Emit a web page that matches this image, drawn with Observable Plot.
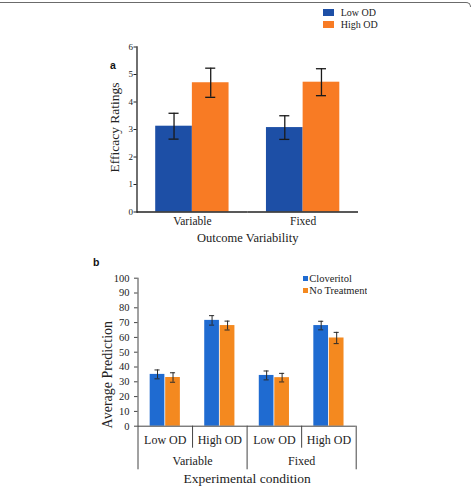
<!DOCTYPE html>
<html>
<head>
<meta charset="utf-8">
<script src="https://cdn.jsdelivr.net/npm/d3@7"></script>
<script src="https://cdn.jsdelivr.net/npm/@observablehq/plot@0.6"></script>
<style>
  html, body { margin: 0; padding: 0; background: #fff; }
  #fig { position: relative; width: 474px; height: 487px; overflow: hidden; background: #fff; }
  #fig > * { position: absolute; }
  #fig > svg { left: 0; }
  .top-rule { left: 0; top: 2px; width: 471px; height: 5px; border-top: 1.5px solid #6b6b6b;
              border-right: 1.5px solid #6b6b6b; border-top-right-radius: 5px; box-sizing: border-box; }
  .panel-tag { font: bold 10.5px "Liberation Sans", Arial, sans-serif; color: #111; line-height: 1; }
  .legend-a { left: 323.3px; top: 6.9px; }
  .legend-a .lega-swatches { margin: 0; font: 10px "Liberation Serif", "Times New Roman", serif; color: #222; }
  .legend-a .lega-swatch { height: 11.6px; padding: 0; display: flex; align-items: center; }
  .legend-a .lega-swatch > svg { margin-right: 6.4px; }
  .legend-b { left: 302.5px; top: 272.9px; }
  .legend-b .legb-swatches { margin: 0; font: 10.5px "Liberation Serif", "Times New Roman", serif; color: #222; }
  .legend-b .legb-swatch { height: 11.6px; padding: 0; display: flex; align-items: center; }
  .legend-b .legb-swatch > svg { margin-right: 1.8px; }
</style>
</head>
<body>
<div id="fig"></div>
<script>
// ---- Panel a: efficacy ratings by outcome variability ----
const outcomeGroups = ["Variable", "Fixed"];
const odLevels = ["Low OD", "High OD"];
const ratingLowOD = [3.12, 3.07];
const ratingHighOD = [4.70, 4.72];
const errLowOD = [0.47, 0.43];
const errHighOD = [0.53, 0.49];
const ratingTicks = [0, 1, 2, 3, 4, 5, 6];

// ---- Panel b: average prediction by experimental condition ----
const conditions = ["Variable", "Fixed"];
const treatments = ["Cloveritol", "No Treatment"];
// order: Variable/Low OD, Variable/High OD, Fixed/Low OD, Fixed/High OD
const predCloveritol = [35.0, 71.5, 34.3, 68.0];
const predNoTreatment = [32.9, 68.0, 32.8, 59.6];
const errCloveritol = [3.0, 3.2, 3.0, 2.9];
const errNoTreatment = [3.2, 3.0, 2.9, 3.8];
const predictionTicks = [0, 10, 20, 30, 40, 50, 60, 70, 80, 90, 100];

const serif = "'Liberation Serif', 'Times New Roman', serif";

const tableA = outcomeGroups.flatMap((g, i) => [
  {group: g, od: odLevels[0], mean: ratingLowOD[i], err: errLowOD[i]},
  {group: g, od: odLevels[1], mean: ratingHighOD[i], err: errHighOD[i]}
]);

const slots = conditions.flatMap(c => odLevels.map(o => `${c}|${o}`));
const tableB = slots.flatMap((s, i) => [
  {slot: s, treatment: treatments[0], mean: predCloveritol[i], err: errCloveritol[i]},
  {slot: s, treatment: treatments[1], mean: predNoTreatment[i], err: errNoTreatment[i]}
]);

const fig = document.getElementById("fig");

// frame line along the top of the figure
const topRule = document.createElement("div");
topRule.className = "top-rule";
fig.append(topRule);

// ---- panel a ----
const plotA = Plot.plot({
  width: 474,
  height: 250,
  marginLeft: 136.5,
  marginRight: 116,
  marginTop: 46.5,
  marginBottom: 38.5,
  style: {fontFamily: serif, fontSize: "9px", color: "#222", background: "transparent", overflow: "visible"},
  fx: {domain: outcomeGroups, paddingInner: 0, paddingOuter: 0, round: false},
  x: {domain: odLevels, paddingInner: 0, paddingOuter: 0.51, round: false, axis: null},
  y: {domain: [0, 6]},
  color: {domain: odLevels, range: ["#1d4fa6", "#f87b24"]},
  marks: [
    Plot.barY(tableA, {fx: "group", x: "od", y: "mean", fill: "od"}),
    Plot.ruleX(tableA, {fx: "group", x: "od", y1: d => d.mean - d.err, y2: d => d.mean + d.err, stroke: "#1a1a1a", strokeWidth: 1.3}),
    Plot.tickY(tableA, {fx: "group", x: "od", y: d => d.mean - d.err, stroke: "#1a1a1a", strokeWidth: 1.3, inset: 13.3}),
    Plot.tickY(tableA, {fx: "group", x: "od", y: d => d.mean + d.err, stroke: "#1a1a1a", strokeWidth: 1.3, inset: 13.3}),
    Plot.ruleY([0], {stroke: "#222", strokeWidth: 1.3}),
    Plot.frame({anchor: "left", fx: outcomeGroups[0], stroke: "#222", strokeWidth: 1.3}),
    Plot.axisY({ticks: ratingTicks, tickFormat: "d", tickSize: 3, tickPadding: 1, fontSize: 9, label: null, stroke: "#222"}),
    Plot.axisFx({anchor: "bottom", tickSize: 0, tickPadding: 5.3, fontSize: 11.5, label: null}),
    Plot.text(["Efficacy Ratings"], {
      fx: () => outcomeGroups[0], frameAnchor: "left", textAnchor: "middle", lineAnchor: "middle",
      rotate: -90, dx: -22.3, dy: -2, fontSize: 13.5
    }),
    Plot.text(["Outcome Variability"], {
      facet: "super", frameAnchor: "bottom", textAnchor: "middle", lineAnchor: "middle", dy: 26, fontSize: 12.5
    })
  ]
});
plotA.style.top = "0px";
fig.append(plotA);

const legendA = document.createElement("div");
legendA.className = "legend-a";
legendA.append(plotA.legend("color", {columns: 1, swatchWidth: 11, swatchHeight: 7, className: "lega"}));
fig.append(legendA);

const tagA = document.createElement("div");
tagA.className = "panel-tag";
tagA.style.left = "110px";
tagA.style.top = "60px";
tagA.textContent = "a";
fig.append(tagA);

// ---- panel b ----
const heightB = 237, topB = 27.7, bottomB = 61.3;
const frameHB = heightB - topB - bottomB;
const plotB = Plot.plot({
  width: 474,
  height: heightB,
  marginLeft: 137.5,
  marginRight: 118.3,
  marginTop: topB,
  marginBottom: bottomB,
  style: {fontFamily: serif, fontSize: "10.5px", color: "#222", background: "transparent", overflow: "visible"},
  fx: {domain: slots, paddingInner: 0, paddingOuter: 0, round: false},
  x: {domain: treatments, paddingInner: 0, paddingOuter: 0.76, round: false, axis: null},
  y: {domain: [0, 100]},
  color: {domain: treatments, range: ["#1f6bd1", "#f4891f"]},
  marks: [
    Plot.barY(tableB, {fx: "slot", x: "treatment", y: "mean", fill: "treatment", insetLeft: 0.4, insetRight: 0.4}),
    Plot.ruleX(tableB, {fx: "slot", x: "treatment", y1: d => d.mean - d.err, y2: d => d.mean + d.err, stroke: "#2a2a2a", strokeWidth: 1}),
    Plot.tickY(tableB, {fx: "slot", x: "treatment", y: d => d.mean - d.err, stroke: "#2a2a2a", strokeWidth: 1, inset: 5.2}),
    Plot.tickY(tableB, {fx: "slot", x: "treatment", y: d => d.mean + d.err, stroke: "#2a2a2a", strokeWidth: 1, inset: 5.2}),
    Plot.ruleY([0], {stroke: "#444", strokeWidth: 1}),
    // y axis line continuing down as the outer category divider
    Plot.frame({anchor: "left", fx: slots[0], stroke: "#444", insetBottom: -42.6}),
    // category dividers below the axis
    ...slots.slice(1).map((s, i) => Plot.frame({
      anchor: "left", fx: s, stroke: "#444",
      insetTop: frameHB, insetBottom: (i + 1) % odLevels.length === 0 ? -42.6 : -21
    })),
    Plot.frame({anchor: "right", fx: slots[slots.length - 1], stroke: "#444", insetTop: frameHB, insetBottom: -42.6}),
    Plot.axisY({ticks: predictionTicks, tickFormat: "d", tickSize: 3.5, tickPadding: 5, fontSize: 10.5, label: null, stroke: "#444"}),
    Plot.axisFx({anchor: "bottom", tickSize: 0, tickPadding: 9.5, fontSize: 12, label: null, tickFormat: s => s.split("|")[1]}),
    Plot.text(conditions, {
      fx: c => `${c}|${odLevels[1]}`, text: d => d, frameAnchor: "bottom-left",
      textAnchor: "middle", lineAnchor: "middle", dy: 35, fontSize: 12
    }),
    Plot.text(["Average Prediction"], {
      fx: () => slots[0], frameAnchor: "left", textAnchor: "middle", lineAnchor: "middle",
      rotate: -90, dx: -30.3, dy: 22.5, fontSize: 14
    }),
    Plot.text(["Experimental condition"], {
      facet: "super", frameAnchor: "bottom", textAnchor: "middle", lineAnchor: "middle", dy: 52.5, fontSize: 13.5
    })
  ]
});
plotB.style.top = "250px";
fig.append(plotB);

const legendB = document.createElement("div");
legendB.className = "legend-b";
legendB.append(plotB.legend("color", {columns: 1, swatchWidth: 5, swatchHeight: 5, className: "legb"}));
fig.append(legendB);

const tagB = document.createElement("div");
tagB.className = "panel-tag";
tagB.style.left = "93px";
tagB.style.top = "257px";
tagB.textContent = "b";
fig.append(tagB);
</script>
</body>
</html>
